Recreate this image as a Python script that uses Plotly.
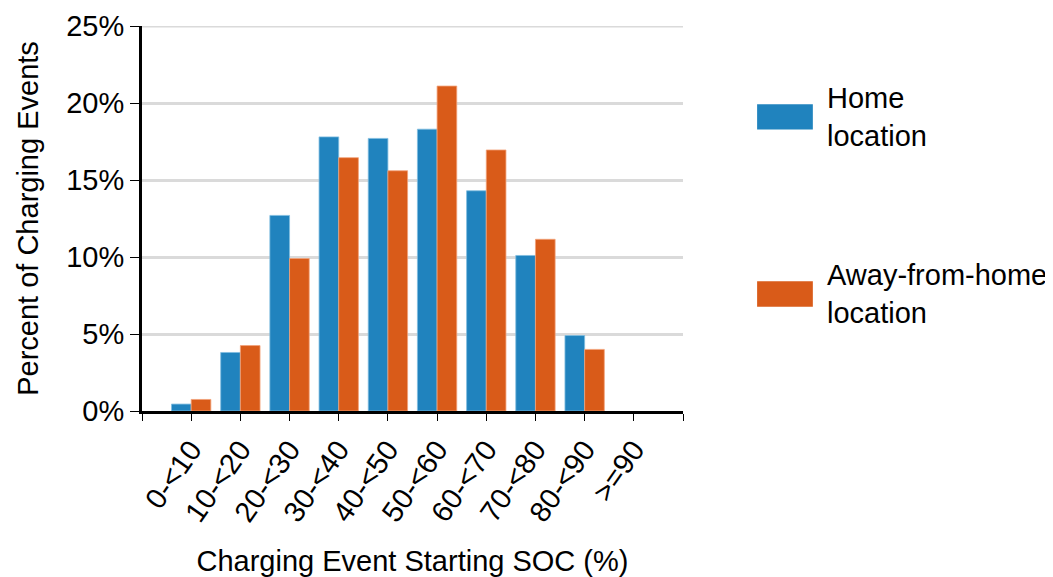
import plotly.graph_objects as go

categories = ["0-<10", "10-<20", "20-<30", "30-<40", "40-<50",
              "50-<60", "60-<70", "70-<80", "80-<90", ">=90"]
home = [0.45, 3.8, 12.7, 17.8, 17.7, 18.3, 14.3, 10.1, 4.9, 0.0]
away = [0.75, 4.25, 9.9, 16.45, 15.6, 21.1, 16.95, 11.15, 4.0, 0.0]
series_names = ["Home<br>location", "Away-from-home<br>location"]
y_ticks = [0, 5, 10, 15, 20, 25]

BLUE = "#2083BE"
ORANGE = "#D95B19"
GRID = "#dadada"
FONT = "Liberation Sans, Arial, sans-serif"
FS = 29

x = list(range(len(categories)))

def outline(vals, color):
    return dict(color=color, width=[0 if v == 0 else 0.8 for v in vals])

fig = go.Figure()
fig.add_trace(go.Bar(x=x, y=home, name=series_names[0],
                     marker=dict(color=BLUE, line=outline(home, "#7fbde0")), showlegend=False))
fig.add_trace(go.Bar(x=x, y=away, name=series_names[1],
                     marker=dict(color=ORANGE, line=outline(away, "#f2a27a")), showlegend=False))

fig.update_layout(
    width=1053, height=577,
    margin=dict(l=134, r=378, t=18, b=174, autoexpand=False),
    paper_bgcolor="white", plot_bgcolor="white",
    barmode="group", bargap=0.2, bargroupgap=0,
    font=dict(family=FONT, size=FS, color="black"),
)
fig.update_xaxes(
    range=[-1, 10], tickmode="array",
    tickvals=list(range(-1, len(categories) + 1)),
    ticktext=[""] + categories + [""], automargin=False,
    tickangle=-55, ticks="outside", ticklen=7, tickwidth=1, tickcolor="black",
    showline=True, linecolor="black", linewidth=3, showgrid=False, zeroline=False,
    tickfont=dict(family=FONT, size=FS),
    title=dict(text="Charging Event Starting SOC (%)", font=dict(family=FONT, size=FS), standoff=25),
)
fig.update_yaxes(
    range=[0, y_ticks[-1]], tickmode="array", tickvals=y_ticks,
    ticktext=[f"{v}%" for v in y_ticks], ticklabeloverflow="allow", automargin=False,
    ticks="outside", ticklen=9, tickwidth=1, tickcolor="black",
    showline=True, linecolor="black", linewidth=3,
    showgrid=True, gridcolor=GRID, gridwidth=3, zeroline=False,
    tickfont=dict(family=FONT, size=FS),
    title=dict(text="Percent of Charging Events", font=dict(family=FONT, size=FS), standoff=20),
)

# top gridline (plotly drops gridlines at the range edge)
fig.add_shape(type="line", xref="paper", yref="y", x0=0, x1=1,
              y0=y_ticks[-1], y1=y_ticks[-1], line=dict(color=GRID, width=3), layer="below")

# Legend drawn as large swatches with labels
legend_items = [(BLUE, series_names[0], 0.764), (ORANGE, series_names[1], 0.304)]
for color, label, yc in legend_items:
    fig.add_shape(type="rect", xref="paper", yref="paper",
                  x0=1.137, x1=1.240, y0=yc - 0.033, y1=yc + 0.033,
                  fillcolor=color, line=dict(width=0))
    fig.add_annotation(xref="paper", yref="paper", x=1.262, y=yc, text=label,
                       showarrow=False, xanchor="left", yanchor="middle", align="left",
                       font=dict(family=FONT, size=FS, color="black"))

fig.write_html("out.html")
